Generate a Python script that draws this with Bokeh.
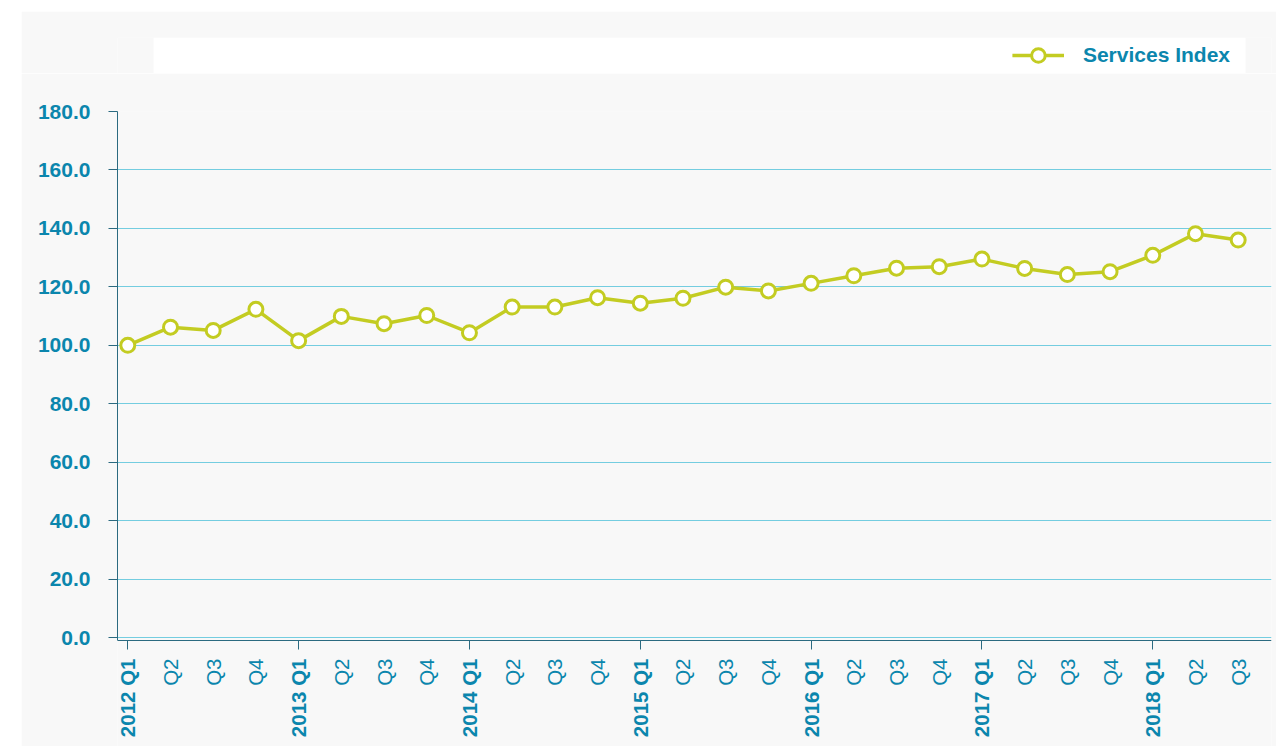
import math
from bokeh.plotting import figure
from bokeh.models import (FixedTicker, ColumnDataSource, Legend, LegendItem,
                          Spacer, NumeralTickFormatter, LinearAxis, Range1d,
                          BoxAnnotation)
from bokeh.layouts import column, row
from bokeh.embed import file_html
from bokeh.resources import INLINE

# ---------------- data ----------------
years = ["2012", "2013", "2014", "2015", "2016", "2017", "2018"]
quarters = ["Q1", "Q2", "Q3", "Q4"]
services_index = [
    100.0, 106.2, 105.1, 112.3,   # 2012
    101.6, 109.9, 107.4, 110.2,   # 2013
    104.3, 113.1, 113.1, 116.3,   # 2014
    114.4, 116.1, 119.9, 118.6,   # 2015
    121.2, 123.8, 126.4, 126.9,   # 2016
    129.5, 126.3, 124.2, 125.2,   # 2017
    130.8, 138.2, 136.0,          # 2018
]
y_ticks = [0, 20, 40, 60, 80, 100, 120, 140, 160, 180]
series_name = "Services Index"

period_labels = []
for yr in years:
    for q in quarters:
        if len(period_labels) < len(services_index):
            period_labels.append(f"{yr} {q}" if q == "Q1" else q)
xs = list(range(len(services_index)))
q1_pos = [i for i, lab in enumerate(period_labels) if lab.endswith("Q1")]
other_pos = [i for i in xs if i not in q1_pos]

# ---------------- style ----------------
BG = "#f8f8f8"
TEXT = "#0b86ad"
AXIS = "#2b6a80"
GRID = "#74cde0"
LINE = "#c3cc22"
FONT = "Liberation Sans"
W = 1255
BL, BR = 96, 5          # left / right borders (shared by both figures)

# ---------------- legend strip ----------------
lf = figure(width=W, height=62, x_range=Range1d(0, 1), y_range=Range1d(0, 1),
            output_backend="svg", toolbar_location=None,
            x_axis_location=None, y_axis_location=None,
            min_border_left=BL, min_border_right=BR,
            min_border_top=26, min_border_bottom=0,
            background_fill_color=BG, border_fill_color=BG,
            outline_line_color=None)
lf.grid.visible = False
lf.add_layout(BoxAnnotation(left=0.0312, right=0.9775, bottom=0, top=1,
                            fill_color="white", fill_alpha=1.0, line_color=None))
dummy = ColumnDataSource(dict(x=[5, 6], y=[5, 5]))   # outside the strip's range
lln = lf.line("x", "y", source=dummy, line_color=LINE, line_width=3.5)
lsc = lf.scatter("x", "y", source=dummy, marker="circle", size=14,
                 fill_color="white", line_color=LINE, line_width=3)
legend = Legend(items=[LegendItem(label=series_name, renderers=[lln, lsc])],
                location="right", orientation="horizontal",
                glyph_width=52, glyph_height=34, label_standoff=19,
                padding=1, margin=41, spacing=0,
                border_line_color=None, background_fill_alpha=0,
                label_text_font=FONT, label_text_font_size="21px",
                label_text_font_style="bold", label_text_color=TEXT)
lf.add_layout(legend)

# ---------------- main chart ----------------
Y0 = -1.0               # where the x axis line sits
Y_BOTTOM = -37.27       # frame extends below the axis to hold the labels
p = figure(width=W, height=673,
           x_range=Range1d(-0.241, 26.78), y_range=Range1d(Y_BOTTOM, 180.0),
           output_backend="svg", toolbar_location=None,
           min_border_left=BL, min_border_right=BR,
           min_border_top=38, min_border_bottom=0,
           background_fill_color=BG, border_fill_color=BG,
           outline_line_color=None)

p.xgrid.grid_line_color = None
p.ygrid.ticker = FixedTicker(ticks=y_ticks)
p.ygrid.grid_line_color = GRID
p.ygrid.grid_line_width = 1

ya = p.yaxis[0]
ya.ticker = FixedTicker(ticks=y_ticks)
ya.formatter = NumeralTickFormatter(format="0.0")
ya.bounds = (Y0, 180.0)
ya.axis_line_color = AXIS
ya.major_tick_line_color = AXIS
ya.major_tick_in = 0
ya.major_tick_out = 9
ya.minor_tick_line_color = None
ya.major_label_standoff = 18
ya.major_label_text_font = FONT
ya.major_label_text_font_size = "21px"
ya.major_label_text_font_style = "bold"
ya.major_label_text_color = TEXT

# x axis: line, ticks and bold year labels at Q1
xa = p.xaxis[0]
xa.fixed_location = Y0
xa.ticker = FixedTicker(ticks=q1_pos)
xa.major_label_overrides = {i: period_labels[i] for i in q1_pos}
xa.axis_line_color = AXIS
xa.major_tick_line_color = AXIS
xa.major_tick_in = 0
xa.major_tick_out = 9
xa.minor_tick_line_color = None
xa.major_label_standoff = 9
xa.major_label_orientation = math.pi / 2
xa.major_label_text_font = FONT
xa.major_label_text_font_size = "20.5px"
xa.major_label_text_font_style = "bold"
xa.major_label_text_color = TEXT

# second x axis at the same place for Q2-Q4 labels (normal weight)
xb = LinearAxis(ticker=FixedTicker(ticks=other_pos),
                major_label_overrides={i: period_labels[i] for i in other_pos},
                fixed_location=Y0,
                axis_line_color=None, major_tick_line_color=None,
                minor_tick_line_color=None,
                major_tick_in=0, major_tick_out=0,
                major_label_standoff=18,
                major_label_orientation=math.pi / 2,
                major_label_text_font=FONT,
                major_label_text_font_size="20.5px",
                major_label_text_font_style="normal",
                major_label_text_color=TEXT)
p.add_layout(xb, "below")

src = ColumnDataSource(dict(x=xs, y=services_index))
p.line("x", "y", source=src, line_color=LINE, line_width=3.5)
p.scatter("x", "y", source=src, marker="circle", size=14,
          fill_color="white", line_color=LINE, line_width=3)

layout = column(Spacer(height=11),
                row(Spacer(width=21), column(lf, p, spacing=0)))

open("out.html", "w").write(file_html(layout, INLINE))
